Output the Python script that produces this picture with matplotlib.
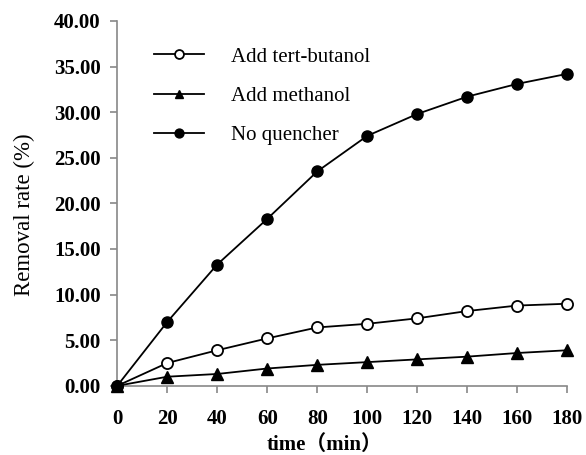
import matplotlib
matplotlib.use('Agg')
import matplotlib.pyplot as plt

# time points (min)
time = [0, 20, 40, 60, 80, 100, 120, 140, 160, 180]

# removal rate (%)
tert_butanol = [0, 2.5, 3.9, 5.2, 6.4, 6.8, 7.4, 8.2, 8.8, 9.0]
methanol = [0, 1.0, 1.3, 1.9, 2.3, 2.6, 2.9, 3.2, 3.6, 3.9]
no_quencher = [0, 7.0, 13.3, 18.3, 23.5, 27.4, 29.8, 31.7, 33.1, 34.2]

labels = ['Add tert-butanol', 'Add methanol', 'No quencher']
yticks = [0, 5, 10, 15, 20, 25, 30, 35, 40]

plt.rcParams['font.family'] = ['Liberation Serif', 'Noto Sans CJK SC']

fig = plt.figure(figsize=(5.86, 4.55), dpi=100)
ax = fig.add_axes([0.2, 0.152, 0.768, 0.802])

ax.plot(time, tert_butanol, color='black', lw=1.3, marker='o', ms=8,
        mfc='white', mec='black', mew=1.3, label=labels[0], clip_on=False, zorder=3)
ax.plot(time, methanol, color='black', lw=1.3, marker='^', ms=8,
        mfc='black', mec='black', label=labels[1], clip_on=False, zorder=3)
ax.plot(time, no_quencher, color='black', lw=1.3, marker='o', ms=8,
        mfc='black', mec='black', label=labels[2], clip_on=False, zorder=3)

ax.set_xlim(0, 180)
ax.set_ylim(0, 40)
ax.set_xticks(time)
ax.set_yticks(yticks)
ax.set_yticklabels([f'{v:.2f}' for v in yticks])

for s in ['top', 'right']:
    ax.spines[s].set_visible(False)
for s in ['left', 'bottom']:
    ax.spines[s].set_color('#888888')
    ax.spines[s].set_linewidth(1.2)

ax.tick_params(axis='both', colors='#888888', length=5, width=1.2,
               labelcolor='black', labelsize=15)
for lab in ax.get_xticklabels() + ax.get_yticklabels():
    lab.set_fontweight('bold')
ax.tick_params(axis='x', pad=12)
ax.tick_params(axis='y', pad=7)

ax.set_ylabel('Removal rate (%)', fontsize=16.5)
ax.yaxis.set_label_coords(-0.182, 0.468)
ax.set_xlabel('time（min）', fontsize=15, fontweight='bold')
ax.xaxis.set_label_coords(0.46, -0.135)

ax.legend(loc='upper left', bbox_to_anchor=(0.04, 0.98), frameon=False,
          fontsize=15, handlelength=2.4, labelspacing=0.95, handletextpad=1.3,
          markerscale=0.8)

fig.savefig('out.png', dpi=100)
